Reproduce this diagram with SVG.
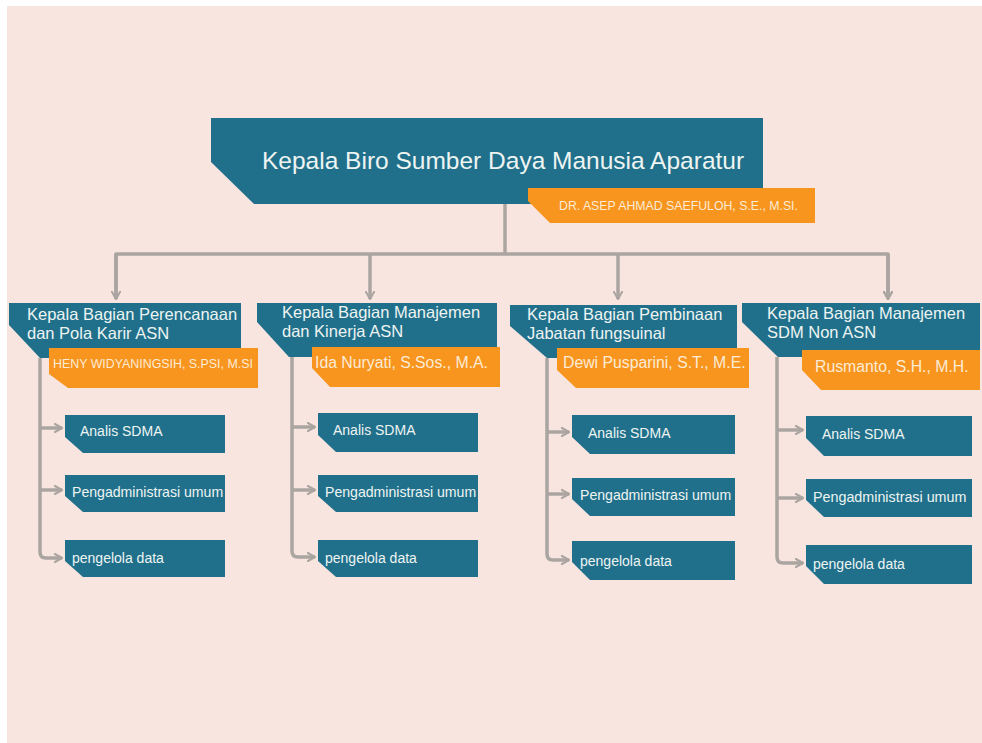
<svg xmlns="http://www.w3.org/2000/svg" width="982" height="743" viewBox="0 0 982 743">
  <style>
    .teal { fill: #20708B; }
    .orange { fill: #F7951F; }
    .t { font-family: "Liberation Sans", Arial, sans-serif; fill: #EEF4F2; }
    .o { font-family: "Liberation Sans", Arial, sans-serif; fill: #FDEBD5; }
    .line { fill: none; stroke: #ABA5A2; stroke-width: 3.5; stroke-linejoin: round; }
  </style>
  <defs>
    <marker id="ah" viewBox="0 0 10 10" refX="8" refY="5" markerWidth="3" markerHeight="3" orient="auto" markerUnits="strokeWidth">
      <path d="M1,1 L8,5 L1,9" fill="none" stroke="#ABA5A2" stroke-width="2" stroke-linecap="round" stroke-linejoin="round"/>
    </marker>
  </defs>
  <rect x="0" y="0" width="982" height="743" fill="#FFFFFF"/>
  <rect x="7" y="6" width="975" height="737" fill="#F9E5DF"/>

  <g id="connectors">
    <path class="line" d="M505,204 V254"/>
    <path class="line" d="M116,299 V254 H888 V299" marker-end="url(#ah)"/>
    <path class="line" d="M116,254 V299" marker-end="url(#ah)"/>
    <path class="line" d="M370,254 V299" marker-end="url(#ah)"/>
    <path class="line" d="M618,254 V299" marker-end="url(#ah)"/>
    <path class="line" d="M888,254 V299" marker-end="url(#ah)"/>

    <path class="line" d="M40,358 V552 Q40,558 46,558 H62" marker-end="url(#ah)"/>
    <path class="line" d="M40,428 H62" marker-end="url(#ah)"/>
    <path class="line" d="M40,490 H62" marker-end="url(#ah)"/>

    <path class="line" d="M292,357 V551 Q292,557 298,557 H315" marker-end="url(#ah)"/>
    <path class="line" d="M292,427 H315" marker-end="url(#ah)"/>
    <path class="line" d="M292,490 H315" marker-end="url(#ah)"/>

    <path class="line" d="M547,358 V554 Q547,560 553,560 H569" marker-end="url(#ah)"/>
    <path class="line" d="M547,432 H569" marker-end="url(#ah)"/>
    <path class="line" d="M547,494 H569" marker-end="url(#ah)"/>

    <path class="line" d="M777,357 V557 Q777,563 783,563 H803" marker-end="url(#ah)"/>
    <path class="line" d="M777,430 H803" marker-end="url(#ah)"/>
    <path class="line" d="M777,498 H803" marker-end="url(#ah)"/>
  </g>

  <g id="kepala-biro">
    <polygon class="teal" points="211,118 763,118 763,204 254,204 211,162"/>
    <text class="t" x="262" y="169" font-size="24.5">Kepala Biro Sumber Daya Manusia Aparatur</text>
    <polygon class="orange" points="528,188 815,188 815,223 550,223 528,201"/>
    <text class="o" x="559" y="210" font-size="12.3">DR. ASEP AHMAD SAEFULOH, S.E., M.SI.</text>
  </g>

  <g id="bagian-perencanaan">
    <polygon class="teal" points="9,303 241,303 241,358 40,358 9,325"/>
    <text class="t" x="27" y="320" font-size="16.5">Kepala Bagian Perencanaan</text>
    <text class="t" x="27" y="339" font-size="16.5">dan Pola Karir ASN</text>
    <polygon class="orange" points="49,348 258,348 258,388 68,388 49,374"/>
    <text class="o" x="53" y="368" font-size="12.4">HENY WIDYANINGSIH, S.PSI, M.SI</text>
  </g>

  <g id="bagian-manajemen-kinerja">
    <polygon class="teal" points="257,303 497,303 497,357 289,357 257,322"/>
    <text class="t" x="282" y="318" font-size="16.5">Kepala Bagian Manajemen</text>
    <text class="t" x="282" y="337" font-size="16.5">dan Kinerja ASN</text>
    <polygon class="orange" points="312,347 500,347 500,387 330,387 312,368"/>
    <text class="o" x="315" y="368" font-size="15.8">Ida Nuryati, S.Sos., M.A.</text>
  </g>

  <g id="bagian-pembinaan">
    <polygon class="teal" points="510,305 737,305 737,358 547,358 510,326"/>
    <text class="t" x="527" y="320" font-size="16.5">Kepala Bagian Pembinaan</text>
    <text class="t" x="527" y="339" font-size="16.5">Jabatan fungsuinal</text>
    <polygon class="orange" points="557,348 749,348 749,388 576,388 557,370"/>
    <text class="o" x="563" y="368" font-size="15.8">Dewi Pusparini, S.T., M.E.</text>
  </g>

  <g id="bagian-sdm-non-asn">
    <polygon class="teal" points="742,303 980,303 980,357 778,357 742,322"/>
    <text class="t" x="767" y="319" font-size="16.5">Kepala Bagian Manajemen</text>
    <text class="t" x="767" y="338" font-size="16.5">SDM Non ASN</text>
    <polygon class="orange" points="802,350 980,350 980,390 821,390 802,370"/>
    <text class="o" x="815" y="372" font-size="15.8">Rusmanto, S.H., M.H.</text>
  </g>

  <g id="c1-analis">
    <polygon class="teal" points="65,415 225,415 225,453 83,453 65,437"/>
    <text class="t" x="80" y="436" font-size="14">Analis SDMA</text>
  </g>
  <g id="c1-pengadministrasi">
    <polygon class="teal" points="65,475 225,475 225,512 83,512 65,496"/>
    <text class="t" x="72" y="497" font-size="14.1">Pengadministrasi umum</text>
  </g>
  <g id="c1-pengelola">
    <polygon class="teal" points="65,540 225,540 225,577 83,577 65,561"/>
    <text class="t" x="72" y="563" font-size="14">pengelola data</text>
  </g>

  <g id="c2-analis">
    <polygon class="teal" points="318,413 478,413 478,452 336,452 318,435"/>
    <text class="t" x="333" y="435" font-size="14">Analis SDMA</text>
  </g>
  <g id="c2-pengadministrasi">
    <polygon class="teal" points="318,475 478,475 478,512 336,512 318,496"/>
    <text class="t" x="325" y="497" font-size="14.1">Pengadministrasi umum</text>
  </g>
  <g id="c2-pengelola">
    <polygon class="teal" points="318,540 478,540 478,577 336,577 318,561"/>
    <text class="t" x="325" y="563" font-size="14">pengelola data</text>
  </g>

  <g id="c3-analis">
    <polygon class="teal" points="572,415 735,415 735,454 590,454 572,437"/>
    <text class="t" x="588" y="438" font-size="14">Analis SDMA</text>
  </g>
  <g id="c3-pengadministrasi">
    <polygon class="teal" points="572,478 735,478 735,516 590,516 572,499"/>
    <text class="t" x="580" y="500" font-size="14.1">Pengadministrasi umum</text>
  </g>
  <g id="c3-pengelola">
    <polygon class="teal" points="572,541 735,541 735,580 590,580 572,562"/>
    <text class="t" x="580" y="566" font-size="14">pengelola data</text>
  </g>

  <g id="c4-analis">
    <polygon class="teal" points="806,416 972,416 972,456 824,456 806,438"/>
    <text class="t" x="822" y="439" font-size="14">Analis SDMA</text>
  </g>
  <g id="c4-pengadministrasi">
    <polygon class="teal" points="806,479 972,479 972,517 824,517 806,500"/>
    <text class="t" x="813" y="502" font-size="14.3">Pengadministrasi umum</text>
  </g>
  <g id="c4-pengelola">
    <polygon class="teal" points="806,545 972,545 972,584 824,584 806,566"/>
    <text class="t" x="813" y="569" font-size="14">pengelola data</text>
  </g>
</svg>
